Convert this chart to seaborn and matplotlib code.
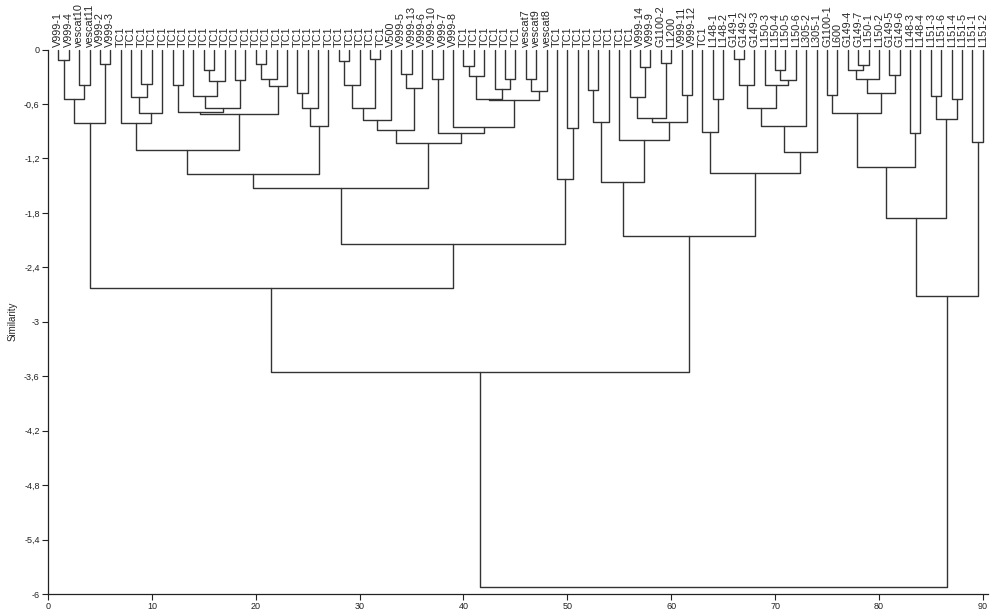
import matplotlib
matplotlib.use("Agg")
import numpy as np
import pandas as pd
import matplotlib.pyplot as plt
import seaborn as sns

# leaf labels, left to right
labels = ["V999-1", "V999-4", "vescat10", "vescat11", "V999-2", "V999-3"] + ["TC1"] * 26 + \
    ["V500", "V999-5", "V999-13", "V999-6", "V999-10", "V999-7", "V999-8"] + ["TC1"] * 6 + \
    ["vescat7", "vescat9", "vescat8"] + ["TC1"] * 8 + \
    ["V999-14", "V999-9", "G1100-2", "L1200", "V999-11", "V999-12", "TC1",
     "L148-1", "L148-2", "G149-1", "G149-2", "G149-3", "L150-3", "L150-4", "L150-5",
     "L150-6", "L305-2", "L305-1", "G1100-1", "L600", "G149-4", "G149-7", "L150-1",
     "L150-2", "G149-5", "G149-6", "L148-3", "L148-4", "L151-3", "L151-6", "L151-4",
     "L151-5", "L151-1", "L151-2"]

# merges: ids 0..89 are leaves, 90+k is the k-th merge
merge_a = [0, 2, 90, 4, 92, 8, 7, 96, 6, 11, 14, 100, 13, 17, 102, 99, 19, 106, 107, 105,
           98, 23, 111, 112, 110, 27, 115, 30, 116, 118, 33, 120, 119, 36, 39, 124, 43, 42,
           125, 45, 129, 128, 38, 123, 122, 114, 49, 48, 135, 94, 51, 140, 56, 55, 58, 143,
           60, 145, 54, 141, 63, 62, 65, 152, 69, 154, 68, 153, 157, 158, 151, 149, 139, 74,
           77, 76, 165, 80, 166, 163, 82, 169, 84, 86, 172, 171, 88, 175, 162]
merge_b = [1, 3, 91, 5, 93, 9, 95, 10, 97, 12, 15, 16, 101, 18, 103, 104, 20, 21, 22, 108,
           109, 24, 25, 26, 113, 28, 29, 31, 117, 32, 34, 35, 121, 37, 40, 41, 44, 126,
           127, 46, 47, 130, 131, 132, 133, 134, 50, 136, 137, 138, 52, 53, 57, 142, 59, 144,
           61, 146, 147, 148, 64, 150, 66, 67, 70, 71, 155, 156, 72, 73, 159, 160, 161, 75,
           78, 164, 79, 81, 167, 168, 83, 170, 85, 87, 173, 174, 89, 176, 177]
merge_h = [-0.12, -0.39, -0.55, -0.16, -0.81, -0.38, -0.52, -0.70, -0.81, -0.39, -0.23, -0.35,
           -0.51, -0.34, -0.65, -0.685, -0.16, -0.33, -0.40, -0.71, -1.11, -0.48, -0.65, -0.84,
           -1.37, -0.13, -0.39, -0.11, -0.64, -0.78, -0.27, -0.42, -0.89, -0.32, -0.18, -0.29,
           -0.32, -0.43, -0.54, -0.33, -0.46, -0.56, -0.857, -0.92, -1.03, -1.53, -0.86, -1.43,
           -2.14, -2.625, -0.45, -0.795, -0.19, -0.52, -0.15, -0.76, -0.50, -0.795, -1.00,
           -1.46, -0.55, -0.905, -0.10, -0.39, -0.23, -0.34, -0.39, -0.64, -0.84, -1.13, -1.36,
           -2.06, -3.555, -0.50, -0.17, -0.23, -0.33, -0.28, -0.48, -0.70, -0.92, -1.29, -0.51,
           -0.55, -0.77, -1.86, -1.02, -2.72, -5.92]

ytick_vals = [0, -0.6, -1.2, -1.8, -2.4, -3, -3.6, -4.2, -4.8, -5.4, -6]
ytick_labels = ["0", "-0,6", "-1,2", "-1,8", "-2,4", "-3", "-3,6", "-4,2", "-4,8", "-5,4", "-6"]

n = len(labels)
pos = list(np.arange(1, n + 1, dtype=float))
height = [0.0] * n
rows = []
for k, (a, b, h) in enumerate(zip(merge_a, merge_b, merge_h)):
    xa, xb = pos[a], pos[b]
    for i, (x, y) in enumerate([(xa, height[a]), (xa, h), (xb, h), (xb, height[b])]):
        rows.append({"link": k, "step": i, "x": x, "y": y})
    pos.append((xa + xb) / 2)
    height.append(h)
segs = pd.DataFrame(rows)

sns.set_style("ticks")
plt.rcParams["font.family"] = ["Liberation Sans", "DejaVu Sans"]

fig = plt.figure(figsize=(9.9, 6.13), dpi=100)
ax = fig.add_axes([48 / 990, 19 / 613, 940 / 990, 544.5 / 613])

sns.lineplot(data=segs, x="x", y="y", units="link", estimator=None, sort=False,
             color="#333333", linewidth=1.0, ax=ax, legend=False)
for ln in ax.lines:
    ln.set_clip_on(False)

ax.set_xlim(0, 90.5)
ax.set_ylim(-6, 0)
ax.set_xticks(range(0, 91, 10))
ax.set_yticks(ytick_vals, ytick_labels)
ax.tick_params(labelsize=6.5, length=4, width=0.8, pad=2, colors="#222222")
ax.set_xlabel("")
ax.set_ylabel("Similarity", fontsize=7, labelpad=5)
for s in ["top", "right"]:
    ax.spines[s].set_visible(False)
for s in ["left", "bottom"]:
    ax.spines[s].set_linewidth(0.9)
    ax.spines[s].set_color("#222222")

top = ax.secondary_xaxis("top")
top.set_xticks(np.arange(1, n + 1), labels, rotation=90, fontsize=7.8)
top.tick_params(length=0, pad=2)
top.spines["top"].set_visible(False)

fig.savefig("out.png", dpi=100)
